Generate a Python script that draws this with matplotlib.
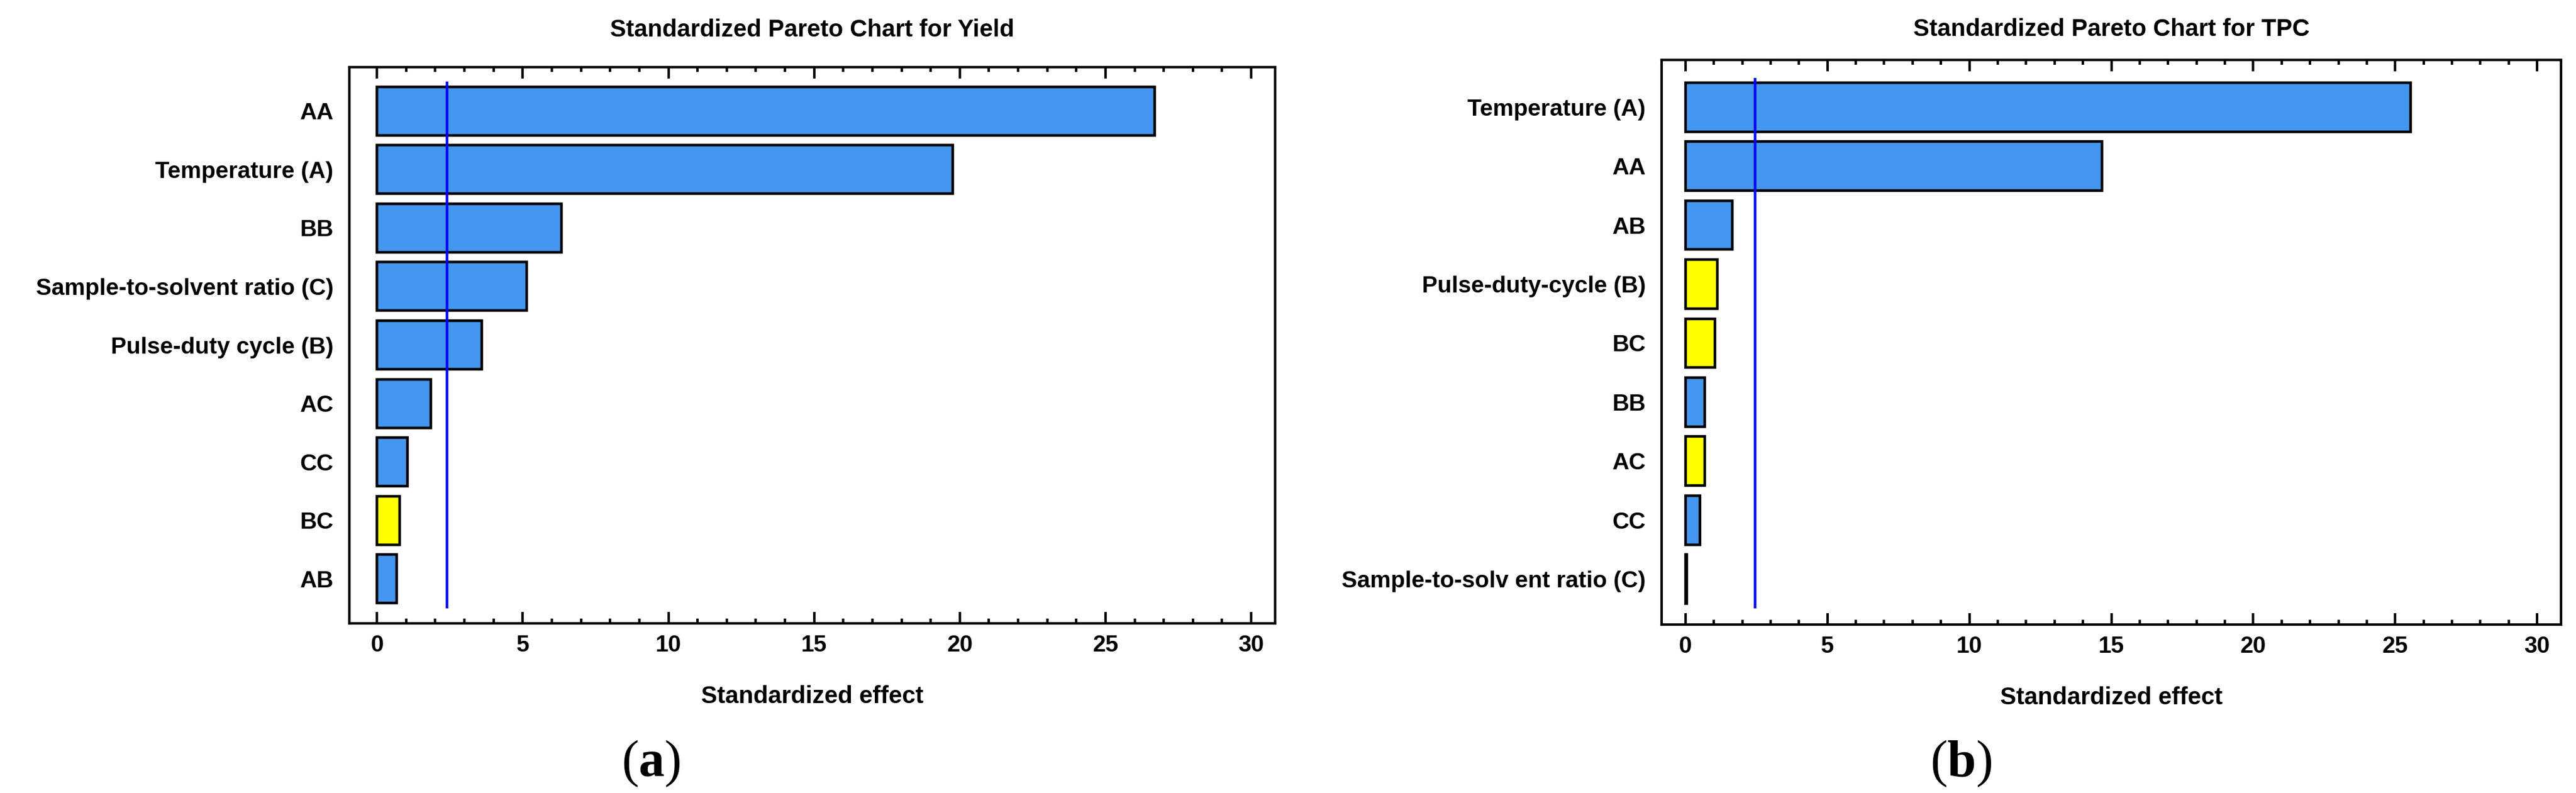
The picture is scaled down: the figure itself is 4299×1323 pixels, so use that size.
import matplotlib
matplotlib.use("Agg")
import matplotlib.pyplot as plt
from matplotlib.ticker import MultipleLocator

OUTPUT_PLOT = "out.png"

# (a) Yield
yield_terms = ["AA", "Temperature (A)", "BB", "Sample-to-solvent ratio (C)",
               "Pulse-duty cycle (B)", "AC", "CC", "BC", "AB"]
yield_effects = [26.68, 19.76, 6.32, 5.13, 3.60, 1.84, 1.05, 0.77, 0.68]
yield_positive = [True, True, True, True, True, True, True, False, True]
yield_critical = 2.41

# (b) TPC
tpc_terms = ["Temperature (A)", "AA", "AB", "Pulse-duty-cycle (B)", "BC",
             "BB", "AC", "CC", "Sample-to-solv ent ratio (C)"]
tpc_effects = [25.54, 14.67, 1.65, 1.13, 1.04, 0.69, 0.69, 0.52, 0.05]
tpc_positive = [True, True, True, False, False, True, False, True, True]
tpc_critical = 2.45

BLUE = "#4496EE"
YELLOW = "#FFFF00"

plt.rcParams['font.family'] = ['Liberation Sans', 'DejaVu Sans']
plt.rcParams['mathtext.fontset'] = 'custom'
plt.rcParams['mathtext.rm'] = 'Liberation Serif'
plt.rcParams['mathtext.bf'] = 'Liberation Serif:bold'


def pareto(ax, terms, effects, positive, critical, title, xlim, ylim, title_pad):
    n = len(terms)
    ypos = list(range(n))
    colors = [BLUE if p else YELLOW for p in positive]
    ax.barh(ypos, effects, height=0.83, color=colors, edgecolor="black", linewidth=3.2)
    # critical t-value line
    ax.vlines(critical, -0.5, n - 0.5, color="#0000FF", linewidth=3.2, zorder=3)

    ax.set_xlim(*xlim)
    ax.set_ylim(*ylim)
    ax.set_yticks(ypos)
    ax.set_yticklabels(terms, fontsize=28, fontweight="bold")
    ax.tick_params(axis="y", length=0, pad=19)

    ax.xaxis.set_major_locator(MultipleLocator(5))
    ax.xaxis.set_minor_locator(MultipleLocator(1))
    ax.tick_params(axis="x", which="both", direction="in", top=True, bottom=True,
                   width=3, labelsize=28, pad=14)
    ax.tick_params(axis="x", which="major", length=14)
    ax.tick_params(axis="x", which="minor", length=6)
    for lbl in ax.get_xticklabels():
        lbl.set_fontweight("bold")

    for sp in ax.spines.values():
        sp.set_linewidth(3)

    ax.set_title(title, fontsize=29, fontweight="bold", pad=title_pad)
    ax.set_xlabel("Standardized effect", fontsize=29, fontweight="bold", labelpad=34)


fig = plt.figure(figsize=(42.99, 13.23), dpi=100)
W, H = 4299, 1323

ax1 = fig.add_axes([583 / W, 1 - 1040 / H, (2128 - 583) / W, (1040 - 112) / H])
pareto(ax1, yield_terms, yield_effects, yield_positive, yield_critical,
       "Standardized Pareto Chart for Yield",
       (-0.95, 30.82), (8.76, -0.75), 37)

ax2 = fig.add_axes([2773 / W, 1 - 1042 / H, (4274 - 2773) / W, (1042 - 100) / H])
pareto(ax2, tpc_terms, tpc_effects, tpc_positive, tpc_critical,
       "Standardized Pareto Chart for TPC",
       (-0.84, 30.84), (8.77, -0.8), 29)

fig.text(1086 / W, 1 - 1274 / H, r"($\mathbf{a}$)", fontsize=62,
         family="Liberation Serif", ha="center", va="center")
fig.text(3273 / W, 1 - 1274 / H, r"($\mathbf{b}$)", fontsize=62,
         family="Liberation Serif", ha="center", va="center")

fig.savefig(OUTPUT_PLOT, dpi=100)
print(f"Plot saved to {OUTPUT_PLOT}")
